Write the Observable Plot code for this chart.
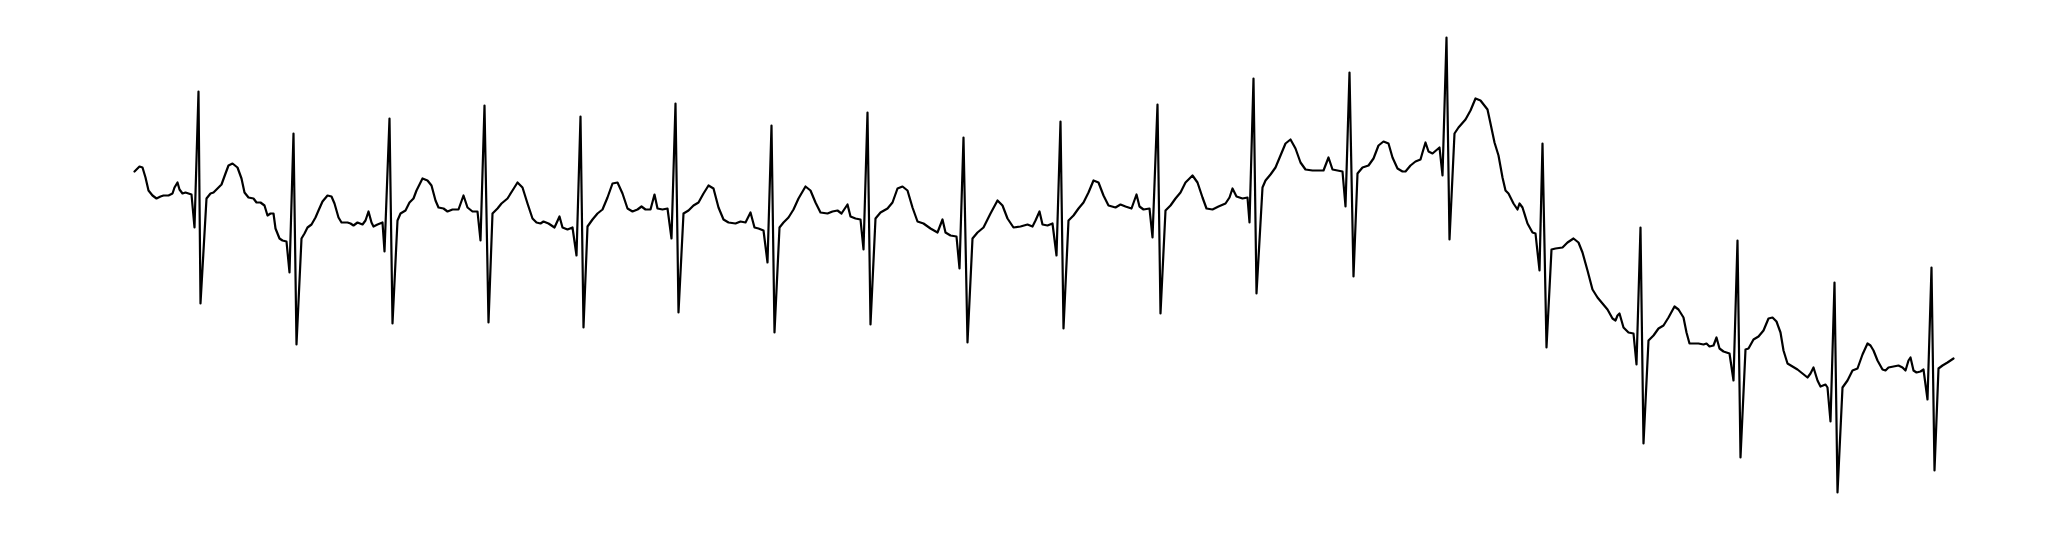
<!DOCTYPE html>
<html>
<head>
<meta charset="utf-8">
<style>
  html, body { margin: 0; padding: 0; background: #fff; }
  #chart svg { display: block; }
</style>
<script src="https://cdn.jsdelivr.net/npm/d3@7"></script>
<script src="https://cdn.jsdelivr.net/npm/@observablehq/plot@0.6"></script>
</head>
<body>
<div id="chart"></div>
<script>
// ECG trace: sample index and amplitude (mV)
const sample = [
  1,6,9,12,15,19,23,27,30,35,39,41,44,46,49,52,55,58,61,65,67,73,77,80,84,88,92,95,99,104,
  108,111,115,120,123,127,131,134,137,140,142,146,149,153,156,160,163,168,171,174,178,182,185,189,194,198,201,205,208,214,
  217,220,224,229,232,235,238,240,244,249,251,256,259,264,267,272,276,280,283,289,294,298,302,305,310,314,319,325,330,334,
  339,344,347,351,355,359,364,368,374,379,384,389,394,399,403,407,410,415,421,426,429,434,439,443,447,450,454,459,464,469,
  474,479,484,489,494,499,504,508,512,517,521,524,529,534,538,542,545,550,555,560,565,570,575,580,585,590,595,602,607,612,
  617,621,625,630,634,638,641,646,650,655,660,665,672,677,682,687,694,699,704,708,714,717,722,727,730,734,737,742,747,754,
  759,764,769,774,779,784,790,797,804,809,812,817,823,826,830,834,839,844,850,857,864,869,874,880,887,894,899,902,906,909,
  914,919,923,927,930,935,940,945,950,955,960,965,970,975,982,987,992,998,1003,1006,1010,1016,1019,1024,1027,1032,1037,1042,1047,1052,
  1059,1064,1069,1073,1079,1085,1092,1096,1099,1103,1109,1114,1116,1120,1123,1129,1132,1137,1142,1147,1152,1157,1162,1167,1172,1179,1185,1190,1195,1199,
  1204,1209,1212,1216,1220,1224,1229,1235,1240,1245,1250,1255,1259,1264,1269,1272,1277,1282,1287,1289,1292,1295,1299,1306,1309,1313,1316,1321,1325,1332,
  1337,1342,1347,1354,1357,1361,1365,1369,1372,1375,1380,1384,1386,1389,1394,1399,1402,1406,1409,1413,1418,1422,1429,1434,1440,1445,1449,1454,1459,1464,
  1469,1474,1479,1482,1484,1486,1490,1495,1500,1503,1507,1510,1515,1520,1525,1530,1535,1541,1545,1550,1553,1556,1560,1565,1570,1573,1576,1580,1583,1586,
  1590,1596,1600,1604,1607,1612,1615,1620,1625,1630,1635,1639,1643,1647,1650,1654,1659,1664,1669,1674,1677,1680,1684,1687,1692,1694,1697,1701,1704,1709,
  1714,1719,1724,1729,1734,1737,1740,1744,1749,1752,1755,1760,1765,1769,1772,1775,1777,1780,1783,1787,1790,1794,1798,1801,1805,1809,1814,1817,1820
];
const mV = [
  1.29,1.34,1.33,1.23,1.10,1.05,1.02,1.04,1.05,1.05,1.07,1.13,1.18,1.11,1.07,1.08,1.07,1.06,0.73,2.09,-0.03,1.02,1.07,1.08,1.12,1.16,1.27,1.35,1.37,1.33,
  1.22,1.08,1.03,1.02,0.98,0.98,0.95,0.85,0.87,0.87,0.72,0.62,0.60,0.59,0.28,1.67,-0.44,0.62,0.67,0.73,0.76,0.83,0.90,0.99,1.05,1.04,0.97,0.83,0.78,0.78,
  0.77,0.75,0.78,0.76,0.80,0.89,0.78,0.74,0.76,0.78,0.49,1.82,-0.23,0.80,0.87,0.90,0.98,1.02,1.10,1.22,1.20,1.15,1.00,0.93,0.92,0.89,0.91,0.91,1.05,0.93,
  0.89,0.89,0.60,1.95,-0.22,0.87,0.92,0.97,1.02,1.10,1.18,1.13,0.97,0.82,0.78,0.77,0.79,0.77,0.73,0.84,0.73,0.71,0.73,0.45,1.84,-0.27,0.74,0.81,0.87,0.91,
  1.03,1.17,1.18,1.07,0.92,0.89,0.91,0.94,0.91,0.91,1.06,0.92,0.91,0.92,0.62,1.97,-0.12,0.87,0.90,0.95,0.98,1.07,1.15,1.12,0.93,0.81,0.78,0.77,0.79,0.78,
  0.88,0.73,0.72,0.70,0.38,1.75,-0.32,0.73,0.78,0.83,0.91,1.02,1.14,1.10,0.98,0.88,0.87,0.89,0.90,0.87,0.96,0.84,0.82,0.81,0.51,1.88,-0.24,0.82,0.88,0.92,
  0.98,1.12,1.14,1.10,0.93,0.79,0.77,0.72,0.68,0.81,0.68,0.65,0.64,0.32,1.63,-0.42,0.62,0.68,0.73,0.87,1.00,0.95,0.82,0.73,0.74,0.76,0.74,0.80,0.89,0.76,
  0.75,0.77,0.45,1.79,-0.28,0.80,0.85,0.92,0.98,1.08,1.20,1.18,1.05,0.95,0.93,0.96,0.94,0.92,1.06,0.94,0.91,0.92,0.63,1.96,-0.13,0.90,0.95,1.02,1.08,1.18,
  1.25,1.18,1.03,0.92,0.91,0.94,0.97,1.03,1.12,1.04,1.02,1.03,0.78,2.22,0.07,1.13,1.20,1.26,1.33,1.45,1.57,1.61,1.52,1.38,1.31,1.30,1.30,1.30,1.43,1.31,
  1.30,1.29,0.94,2.28,0.24,1.27,1.33,1.35,1.42,1.55,1.59,1.57,1.43,1.32,1.29,1.29,1.35,1.39,1.41,1.48,1.58,1.49,1.47,1.53,1.25,2.63,0.61,1.67,1.73,1.81,
  1.90,2.02,2.00,1.91,1.77,1.58,1.45,1.23,1.10,1.07,0.97,0.91,0.97,0.93,0.77,0.68,0.67,0.30,1.57,-0.47,0.51,0.52,0.53,0.58,0.62,0.58,0.48,0.30,0.11,0.03,
  -0.03,-0.09,-0.18,-0.20,-0.15,-0.13,-0.27,-0.32,-0.33,-0.64,0.73,-1.43,-0.40,-0.35,-0.28,-0.25,-0.17,-0.06,-0.09,-0.17,-0.32,-0.43,-0.43,-0.43,-0.44,-0.43,-0.46,-0.45,-0.37,-0.48,
  -0.51,-0.53,-0.80,0.60,-1.57,-0.49,-0.48,-0.39,-0.36,-0.30,-0.18,-0.17,-0.21,-0.32,-0.50,-0.63,-0.66,-0.69,-0.73,-0.77,-0.73,-0.67,-0.80,-0.86,-0.84,-0.87,-1.21,0.18,-1.92,-0.87,
  -0.80,-0.70,-0.68,-0.54,-0.43,-0.45,-0.50,-0.60,-0.69,-0.70,-0.67,-0.66,-0.65,-0.67,-0.70,-0.60,-0.57,-0.70,-0.72,-0.71,-0.69,-0.99,0.33,-1.70,-0.68,-0.65,-0.62,-0.60,-0.58
];
const xDomain = [-133, 1913];
const yDomain = [-2.38, 3.00];

const data = sample.map((s, i) => ({ sample: s, mV: mV[i] }));

const chart = Plot.plot({
  width: 2046,
  height: 538,
  marginTop: 0,
  marginBottom: 0,
  marginLeft: 0,
  marginRight: 0,
  x: { domain: xDomain, axis: null },
  y: { domain: yDomain, axis: null },
  marks: [
    Plot.line(data, { x: "sample", y: "mV", stroke: "black", strokeWidth: 2.2 })
  ]
});
document.getElementById("chart").appendChild(chart);
</script>
</body>
</html>
